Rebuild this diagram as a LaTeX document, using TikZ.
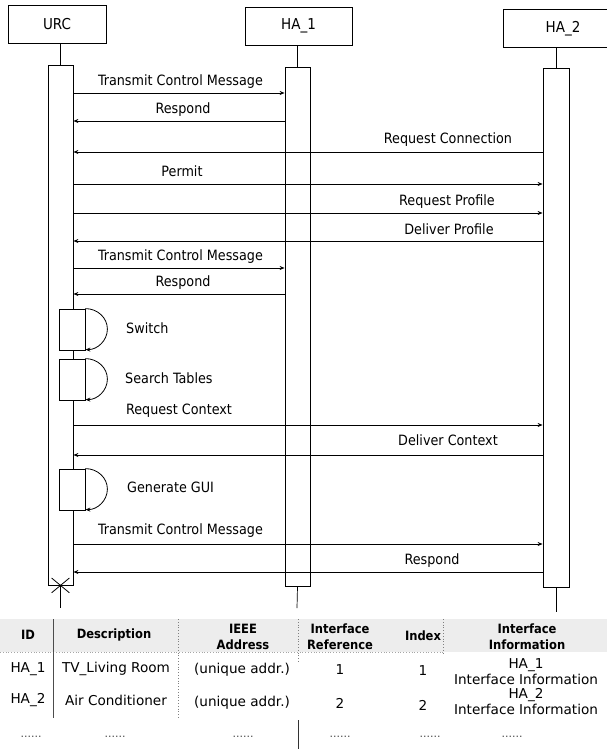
\documentclass[tikz,border=0pt]{standalone}
\usepackage{fontspec}
\setmainfont{DejaVu Sans Condensed}
\newfontfamily\tabfont{DejaVu Sans}
\usetikzlibrary{arrows.meta,shapes.misc}
\begin{document}
\begin{tikzpicture}[x=1pt,y=-1pt,
  head/.style={draw, line width=0.8pt, minimum height=38pt, inner sep=0pt, font=\fontsize{15}{17}\selectfont},
  act/.style={draw, fill=white, line width=0.8pt, minimum width=25pt, inner sep=0pt},
  life/.style={line width=0.7pt},
  msg/.style={line width=0.8pt, -{Stealth[length=5pt,width=4pt]}},
  lbl/.style={font=\fontsize{14.2}{16}\selectfont, inner sep=0pt},
  selfbox/.style={draw, fill=white, line width=0.8pt, minimum width=26pt, minimum height=41pt, inner sep=0pt},
  th/.style={font=\fontsize{12.8}{16}\selectfont\bfseries, align=center, inner sep=0pt},
  td/.style={font=\tabfont\fontsize{13.6}{16}\selectfont, align=center, inner sep=0pt},
  dots/.style={font=\tabfont\fontsize{11}{13}\selectfont, inner sep=0pt, text=black!70},
]
\useasboundingbox (0,0) rectangle (607,749);
\clip (0,0) rectangle (607,749);

% heads
\node[head, minimum width=98pt] (urc) at (57,24) {URC};
\node[head, minimum width=107pt] (ha1) at (298.5,26) {HA\_1};
\node[head, minimum width=120pt] (ha2) at (563,28.5) {HA\_2};

% activations
\node[act, minimum height=520pt] (urcA) at (60.5,325) {};
\node[act, minimum height=519pt] (ha1A) at (297.5,326.5) {};
\node[act, minimum height=519pt, minimum width=26pt] (ha2A) at (556,327.5) {};

% lifelines
\draw[life] (urcA.north |- urc.south) -- (urcA.north);
\draw[life] (ha1A.north |- ha1.south) -- (ha1A.north);
\draw[life] (ha2A.north |- ha2.south) -- (ha2A.north);
\coordinate (urcEnd) at (60.5,608);
\coordinate (ha1End) at (297,608);
\coordinate (ha2End) at (556,612);
\draw[life] (urcA.south) -- (urcEnd);
\draw[life] (ha1A.south) -- (ha1End);
\draw[life] (ha2A.south) -- (ha2End);
\node[cross out, draw, line width=0.8pt, minimum width=17pt, minimum height=14pt, inner sep=0pt] (urcX) at (urcA.south) {};

% messages
\draw[msg] (urcA.east |- 0,93) -- (ha1A.west |- 0,93);
\node[lbl] (m1) at (180.5,82) {Transmit Control Message};
\draw[msg] (ha1A.west |- 0,121) -- (urcA.east |- 0,121);
\node[lbl] (m2) at (183,110) {Respond};
\draw[msg] (ha2A.west |- 0,152) -- (urcA.east |- 0,152);
\node[lbl] (m3) at (448,140) {Request Connection};
\draw[msg] (urcA.east |- 0,184) -- (ha2A.west |- 0,184);
\node[lbl] (m4) at (182,171) {Permit};
\draw[msg] (urcA.east |- 0,213) -- (ha2A.west |- 0,213);
\node[lbl] (m5) at (447,202) {Request Profile};
\draw[msg] (ha2A.west |- 0,241) -- (urcA.east |- 0,241);
\node[lbl] (m6) at (449,229) {Deliver Profile};
\draw[msg] (urcA.east |- 0,268) -- (ha1A.west |- 0,268);
\node[lbl] (m7) at (180.5,257) {Transmit Control Message};
\draw[msg] (ha1A.west |- 0,294) -- (urcA.east |- 0,294);
\node[lbl] (m8) at (183,283) {Respond};

% self activations
\node[selfbox] (sw) at (72,329.5) {};
\draw[msg] (sw.north east) arc[start angle=90, end angle=-90, x radius=22pt, y radius=20.5pt];
\node[lbl, anchor=west] (swl) at (126,328) {Switch};
\node[selfbox] (st) at (72,379.5) {};
\draw[msg] (st.north east) arc[start angle=90, end angle=-90, x radius=22pt, y radius=20.5pt];
\node[lbl, anchor=west] (stl) at (125,378) {Search Tables};

\draw[msg] (urcA.east |- 0,425) -- (ha2A.west |- 0,425);
\node[lbl] (m9) at (179,411) {Request Context};
\draw[msg] (ha2A.west |- 0,455) -- (urcA.east |- 0,455);
\node[lbl] (m10) at (448,440) {Deliver Context};

\node[selfbox] (gg) at (72,489.5) {};
\draw[msg] (gg.north east) arc[start angle=90, end angle=-90, x radius=22pt, y radius=20.5pt];
\node[lbl, anchor=west] (ggl) at (127,487) {Generate GUI};

\draw[msg] (urcA.east |- 0,544) -- (ha2A.west |- 0,544);
\node[lbl] (m11) at (180.5,531) {Transmit Control Message};
\draw[msg] (ha2A.west |- 0,572) -- (urcA.east |- 0,572);
\node[lbl] (m12) at (432,561) {Respond};

% table
\fill[gray!14] (0,619) rectangle (607,652);
\draw[gray!70, dotted, line width=0.8pt] (0,652) -- (445,652);
\draw[black!70, line width=0.6pt] (53,619) -- (53,718);
\draw[gray, dotted, line width=0.8pt] (178,619) -- (178,718);
\draw[gray, dotted, line width=0.8pt] (298,619) -- (298,662);
\draw[black!80, line width=0.6pt] (298,720) -- (298,749);
\draw[gray, dotted, line width=0.8pt] (443,619) -- (443,655);

\node[th] (hID) at (28,635) {ID};
\node[th] (hDesc) at (114,635) {Description};
\node[th] (hIEEE) at (243,636.5) {IEEE\\Address};
\node[th] (hRef) at (340,636.5) {Interface\\Reference};
\node[th] (hIdx) at (423,636) {Index};
\node[th] (hInf) at (527,637) {Interface\\Information};

\node[td] (r1a) at (28,669) {HA\_1};
\node[td] (r1b) at (116,669) {TV\_Living Room};
\node[td] (r1c) at (242,670) {(unique addr.)};
\node[td] (r1d) at (340,670) {1};
\node[td] (r1e) at (423,671) {1};
\node[td] (r1f) at (526,671.5) {HA\_1\\Interface Information};

\node[td] (r2a) at (28,700) {HA\_2};
\node[td] (r2b) at (116,700) {Air Conditioner};
\node[td] (r2c) at (242,703) {(unique addr.)};
\node[td] (r2d) at (340,703) {2};
\node[td] (r2e) at (423,705) {2};
\node[td] (r2f) at (526,701.5) {HA\_2\\Interface Information};

\node[dots] (d1) at (31,737) {......};
\node[dots] (d2) at (115,737) {......};
\node[dots] (d3) at (243,737) {......};
\node[dots] (d4) at (340,737) {......};
\node[dots] (d5) at (430,737) {......};
\node[dots] (d6) at (512,737) {......};
\end{tikzpicture}
\end{document}
